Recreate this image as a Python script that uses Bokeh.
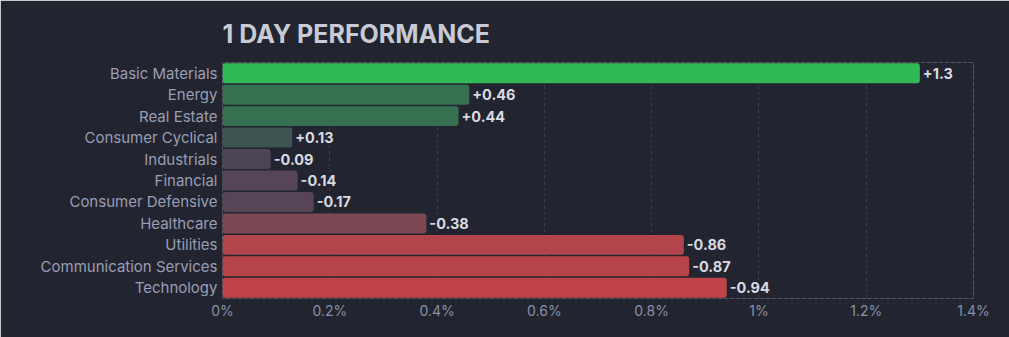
from bokeh.plotting import figure
from bokeh.models import ColumnDataSource, FactorRange, Range1d, FixedTicker, CustomJSTickFormatter
from bokeh.core.properties import value
from bokeh.embed import file_html
from bokeh.resources import INLINE

sectors = ["Basic Materials", "Energy", "Real Estate", "Consumer Cyclical", "Industrials",
           "Financial", "Consumer Defensive", "Healthcare", "Utilities",
           "Communication Services", "Technology"]
changes = [1.3, 0.46, 0.44, 0.13, -0.09, -0.14, -0.17, -0.38, -0.86, -0.87, -0.94]
bar_colors = ["#30b956", "#357050", "#357050", "#3d5552", "#4d4456", "#554557",
              "#564557", "#7b4753", "#b2444c", "#b8444b", "#bf4249"]
x_ticks = [0, 0.2, 0.4, 0.6, 0.8, 1.0, 1.2, 1.4]
title_text = "1 DAY PERFORMANCE"

BG = "#22252f"
FONT = "Inter"

labels = [("+" if v > 0 else "") + (f"{v:g}") for v in changes]
src = ColumnDataSource(dict(
    sector=sectors,
    length=[abs(v) for v in changes],
    color=bar_colors,
    label=labels,
))

p = figure(width=1009, height=337, output_backend="svg", toolbar_location=None,
           y_range=FactorRange(factors=list(reversed(sectors)), range_padding=0),
           x_range=Range1d(0, 1.4),
           min_border_left=222, min_border_right=36, min_border_top=62, min_border_bottom=39,
           background_fill_color=BG, border_fill_color=BG)

p.title.text = title_text
p.title.text_font = FONT
p.title.text_font_size = "25px"
p.title.text_font_style = "bold"
p.title.text_color = "#c8cad6"
p.title.align = "left"
p.title.offset = 0
p.title.standoff = 28

p.hbar(y="sector", right="length", left=0, height=0.93, source=src,
       fill_color="color", line_color=None, border_radius=3)

p.text(x="length", y="sector", text="label", source=src, x_offset=3,
       text_baseline="middle", text_align="left",
       text_font=value(FONT), text_font_size="14.5px", text_font_style="bold",
       text_color="#d9dae2")

p.xaxis.ticker = FixedTicker(ticks=x_ticks)
p.xaxis.formatter = CustomJSTickFormatter(code="return (Math.round(tick*10)/10).toString() + '%';")
for ax in (p.xaxis, p.yaxis):
    ax.axis_line_color = None
    ax.major_tick_line_color = None
    ax.minor_tick_line_color = None
    ax.major_tick_out = 0
    ax.major_tick_in = 0
    ax.minor_tick_out = 0
    ax.major_label_text_font = FONT
p.xaxis.major_label_text_font_size = "14px"
p.yaxis.major_label_text_font_size = "15px"
p.xaxis.major_label_text_color = "#8b8fa6"
p.yaxis.major_label_text_color = "#9a9db4"
p.xaxis.major_label_standoff = 3
p.yaxis.major_label_standoff = 5

p.xgrid.grid_line_color = "#3a3e4b"
p.xgrid.grid_line_dash = "3 3"
p.ygrid.grid_line_color = None
p.outline_line_color = "#3a3e4b"
p.outline_line_dash = "3 3"

open("out.html", "w").write(file_html(p, INLINE))
